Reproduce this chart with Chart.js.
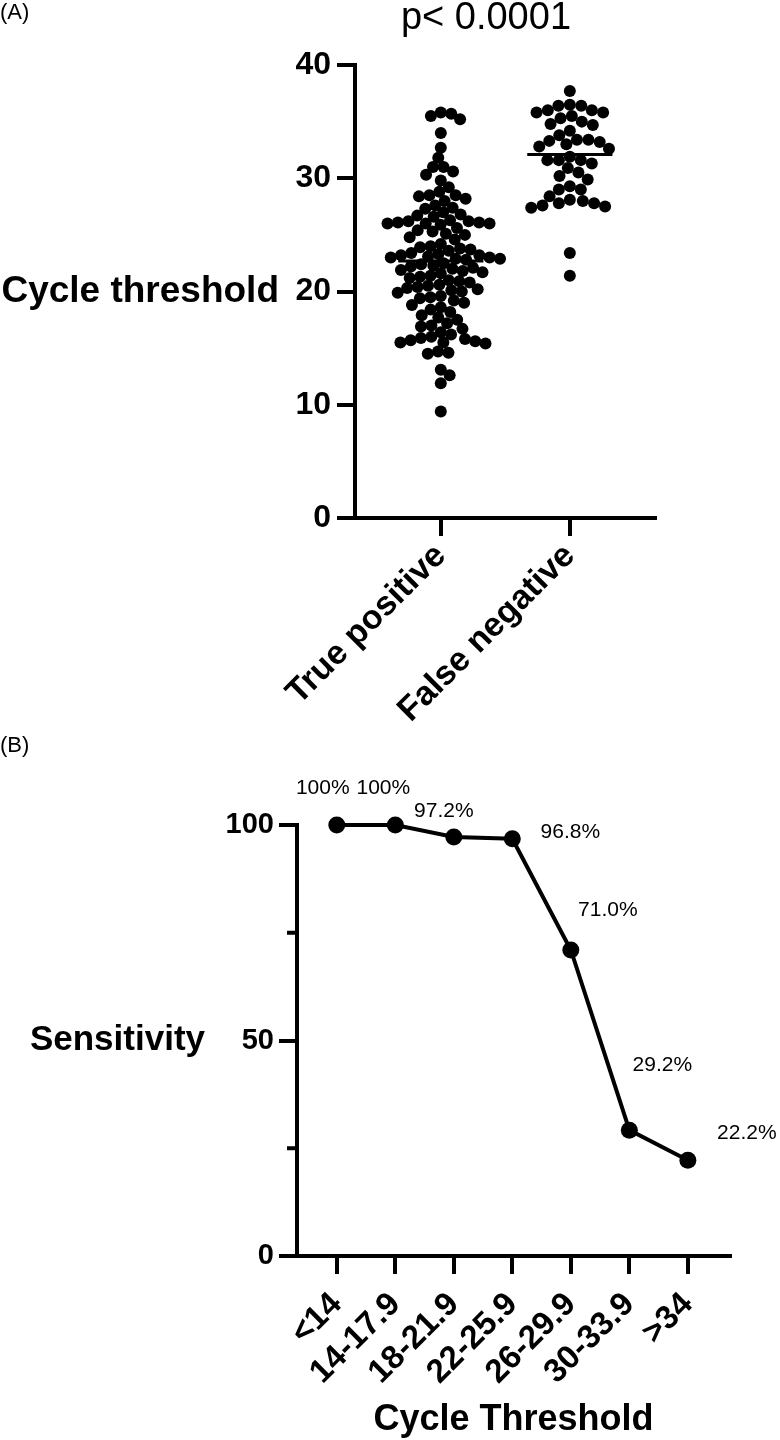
<!DOCTYPE html>
<html>
<head>
<meta charset="utf-8">
<script src="https://cdn.jsdelivr.net/npm/chart.js@4/dist/chart.umd.min.js"></script>
<style>
  html, body { margin: 0; padding: 0; background: #fff; }
  #wrap { position: relative; width: 780px; height: 1440px; }
  #chartA { position: absolute; left: 0; top: 0; }
  #chartB { position: absolute; left: 0; top: 730px; }
</style>
</head>
<body>
<div id="wrap">
  <canvas id="chartA" width="780" height="730"></canvas>
  <canvas id="chartB" width="780" height="710"></canvas>
</div>
<script>
// ---- Panel A: Ct values per group ----
const groups = ['True positive', 'False negative'];
const truePositiveCt = [
  35.8, 35.7, 35.5, 35.2, 34.0, 32.7, 31.8, 31.0, 31.0, 30.6, 30.3, 29.8, 29.2,
  28.8, 28.5, 28.5, 28.4, 28.2, 28.0, 27.6, 27.4, 27.3, 27.0, 26.8, 26.7, 26.6,
  26.3, 26.2, 26.1, 26.0, 26.0, 26.1, 26.2, 26.0, 25.9,
  25.6, 25.4, 25.3, 25.1, 25.0, 24.8, 24.6,
  24.2, 24.0, 23.9, 23.8, 23.7, 23.6,
  23.4, 23.3, 23.2, 23.1, 23.0, 22.9, 22.8, 22.9, 23.0, 23.2,
  22.5, 22.4, 22.3, 22.2, 22.1, 22.0, 21.9, 21.8, 21.7, 21.6,
  21.4, 21.3, 21.2, 21.0, 20.9, 20.8,
  20.6, 20.5, 20.4, 20.3, 20.2, 20.1, 20.0, 19.9,
  19.6, 19.5, 19.4, 19.2, 19.0,
  18.8, 18.6, 18.4, 18.2,
  17.9, 17.7, 17.5,
  17.2, 17.0, 16.9, 16.7,
  16.4, 16.2, 16.0, 15.9, 15.8, 15.7, 15.6, 15.5, 15.5, 15.4,
  14.7, 14.6, 14.5,
  13.1, 12.6, 11.9, 9.4
];
const falseNegativeCt = [
  37.7, 36.5, 36.4, 36.4, 36.0, 36.0, 35.8, 35.8, 35.5, 35.3, 35.0, 34.8, 34.7,
  34.2, 33.8, 33.4, 33.4, 33.3, 33.2, 33.0, 32.8, 32.6, 31.9, 31.6, 31.6, 31.6,
  31.3, 30.9, 30.5, 30.2, 29.9, 29.3, 29.0, 29.0, 28.4, 28.1, 28.0, 27.8, 27.8,
  27.6, 27.5, 27.4, 23.4, 21.4
];
const groupMedians = [22.7, 32.1];
const ctTicksA = [0, 10, 20, 30, 40];
const pValueText = 'p< 0.0001';

// ---- Panel B: sensitivity per Ct bin ----
const ctBins = ['<14', '14-17.9', '18-21.9', '22-25.9', '26-29.9', '30-33.9', '>34'];
const sensitivity = [100, 100, 97.2, 96.8, 71.0, 29.2, 22.2];
const sensTicks = [0, 50, 100];
const sensMinorTicks = [25, 75];

const FONT = "'Liberation Sans', Arial, sans-serif";
Chart.defaults.font.family = FONT;
Chart.defaults.color = '#000';
Chart.defaults.animation = false;

const axisGrid = { display: true, drawOnChartArea: false, drawTicks: true, tickLength: 18,
                   lineWidth: 4, tickWidth: 4, color: '#000', tickColor: '#000' };
const axisBorder = { display: true, width: 4, color: '#000' };

// texte libre : titres horizontaux, lettres de panneau, p-value
const textA = {
  id: 'textA',
  afterDraw(chart) {
    const ctx = chart.ctx, y = chart.scales.y, x = chart.scales.x;
    ctx.save();
    ctx.fillStyle = '#000';
    ctx.textBaseline = 'middle';
    ctx.font = '22px ' + FONT;
    ctx.textAlign = 'left';
    ctx.fillText('(A)', 0, 13);
    ctx.font = '38px ' + FONT;
    ctx.textAlign = 'center';
    ctx.fillText(pValueText, x.getPixelForValue(0.35), 19);
    ctx.font = 'bold 37px ' + FONT;
    ctx.textAlign = 'right';
    ctx.fillText('Cycle threshold', 279, y.getPixelForValue(20));
    ctx.restore();
  }
};

const chartA = new Chart(document.getElementById('chartA'), {
  type: 'scatter',
  data: {
    datasets: [
      { data: truePositiveCt.map(v => ({ x: 0, y: v })), pointRadius: 6, borderWidth: 0, backgroundColor: '#000', clip: false },
      { data: falseNegativeCt.map(v => ({ x: 1, y: v })), pointRadius: 6, borderWidth: 0, backgroundColor: '#000', clip: false },
      { type: 'line', data: [{ x: -0.33, y: groupMedians[0] }, { x: 0.33, y: groupMedians[0] }],
        borderColor: '#000', borderWidth: 3, pointRadius: 0 },
      { type: 'line', data: [{ x: 0.67, y: groupMedians[1] }, { x: 1.33, y: groupMedians[1] }],
        borderColor: '#000', borderWidth: 3, pointRadius: 0 }
    ]
  },
  options: {
    responsive: false,
    layout: { padding: { top: 65, right: 125, left: 0, bottom: 0 } },
    plugins: { legend: { display: false }, tooltip: { enabled: false } },
    scales: {
      x: {
        type: 'linear', min: -0.665, max: 1.66,
        afterBuildTicks: ax => { ax.ticks = groups.map((g, i) => ({ value: i })); },
        ticks: { callback: v => groups[v], font: { size: 34, weight: 'bold' },
                 minRotation: 45, maxRotation: 45, autoSkip: false, padding: 0 },
        grid: axisGrid, border: axisBorder,
        afterFit: s => { s.height = 212; }
      },
      y: {
        min: 0, max: 40,
        afterBuildTicks: ax => { ax.ticks = ctTicksA.map(v => ({ value: v })); },
        ticks: { font: { size: 32, weight: 'bold' }, padding: 6 },
        grid: axisGrid, border: axisBorder,
        afterFit: s => { s.width = 355; }
      }
    }
  },
  plugins: [textA]
});

// répartition en essaim : chaque point est poussé au plus près du centre sans chevaucher
function swarm(chart, dsIndex, center, diam) {
  const xs = chart.scales.x, ys = chart.scales.y;
  const pxX = xs.getPixelForValue(1) - xs.getPixelForValue(0);
  const pxY = ys.getPixelForValue(0) - ys.getPixelForValue(1);
  const placed = [];
  let flip = 1;
  const pts = chart.data.datasets[dsIndex].data.slice().sort((a, b) => b.y - a.y);
  pts.forEach(p => {
    const py = p.y * pxY;
    const near = placed.filter(q => Math.abs(q.py - py) < diam);
    const cands = [0];
    near.forEach(q => {
      const dx = Math.sqrt(diam * diam - (q.py - py) ** 2);
      cands.push(q.px + dx, q.px - dx);
    });
    const ok = c => near.every(q => (q.px - c) ** 2 + (q.py - py) ** 2 >= diam * diam - 0.01);
    let best = null;
    cands.filter(ok).forEach(c => {
      if (best === null || Math.abs(c) < Math.abs(best) - 0.01 ||
          (Math.abs(Math.abs(c) - Math.abs(best)) <= 0.01 && Math.sign(c) === flip)) best = c;
    });
    if (best !== 0) flip = -flip;
    placed.push({ px: best, py });
    p.x = center + best / pxX;
  });
}
swarm(chartA, 0, 0, 10.5);
swarm(chartA, 1, 1, 11.5);
chartA.update();

// ---- Panel B ----
const textB = {
  id: 'textB',
  afterDraw(chart) {
    const ctx = chart.ctx, y = chart.scales.y;
    const left = chart.chartArea.left;
    ctx.save();
    ctx.fillStyle = '#000';
    ctx.strokeStyle = '#000';
    // petites graduations
    ctx.lineWidth = 4;
    sensMinorTicks.forEach(v => {
      const py = y.getPixelForValue(v);
      ctx.beginPath();
      ctx.moveTo(left - 10, py);
      ctx.lineTo(left, py);
      ctx.stroke();
    });
    ctx.textBaseline = 'middle';
    ctx.font = '22px ' + FONT;
    ctx.textAlign = 'left';
    ctx.fillText('(B)', 0, 16);
    ctx.font = 'bold 35px ' + FONT;
    ctx.textAlign = 'right';
    ctx.fillText('Sensitivity', 205, y.getPixelForValue(50));
    // étiquettes de valeurs
    const offsets = [[-14, -37], [-12, -37], [-10, -26], [58, -7], [37, -40], [33, -65], [59, -27]];
    const meta = chart.getDatasetMeta(0);
    ctx.font = '21px ' + FONT;
    ctx.textAlign = 'center';
    meta.data.forEach((pt, i) => {
      const v = sensitivity[i];
      const txt = (v === 100 ? '100' : v.toFixed(1)) + '%';
      ctx.fillText(txt, pt.x + offsets[i][0], pt.y + offsets[i][1]);
    });
    ctx.restore();
  }
};

const chartB = new Chart(document.getElementById('chartB'), {
  type: 'scatter',
  data: {
    datasets: [{
      data: ctBins.map((b, i) => ({ x: i, y: sensitivity[i] })),
      showLine: true, borderColor: '#000', borderWidth: 4,
      pointRadius: 8.5, backgroundColor: '#000', pointBorderWidth: 0, clip: false
    }]
  },
  options: {
    responsive: false,
    layout: { padding: { top: 95, right: 50, left: 0, bottom: 0 } },
    plugins: { legend: { display: false }, tooltip: { enabled: false } },
    scales: {
      x: {
        type: 'linear', min: -0.68, max: 6.72,
        afterBuildTicks: ax => { ax.ticks = ctBins.map((b, i) => ({ value: i })); },
        ticks: { callback: v => ctBins[v], font: { size: 33, weight: 'bold' },
                 minRotation: 45, maxRotation: 45, autoSkip: false, padding: 11 },
        title: { display: true, text: 'Cycle Threshold', font: { size: 36, weight: 'bold' }, padding: { top: 4, bottom: -2 } },
        grid: axisGrid, border: axisBorder,
        afterFit: s => { s.height = 184; }
      },
      y: {
        min: 0, max: 100,
        afterBuildTicks: ax => { ax.ticks = sensTicks.map(v => ({ value: v })); },
        ticks: { font: { size: 29, weight: 'bold' }, padding: 5 },
        grid: axisGrid, border: axisBorder,
        afterFit: s => { s.width = 297; }
      }
    }
  },
  plugins: [textB]
});
</script>
</body>
</html>
